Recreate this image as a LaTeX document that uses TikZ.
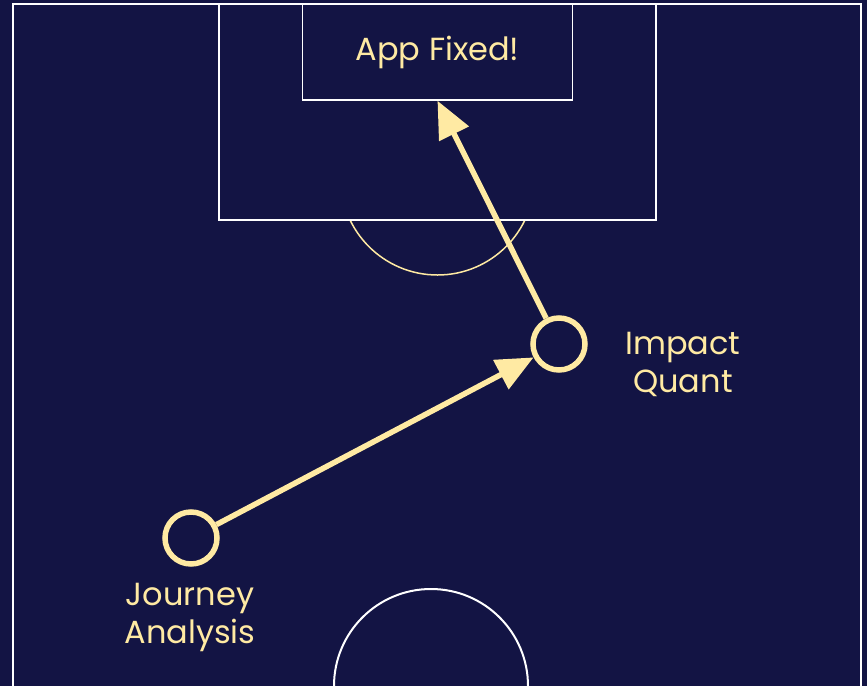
\documentclass[tikz,border=0pt]{standalone}
\usepackage{fontspec}
\setmainfont{Poppins}
\usetikzlibrary{arrows.meta}
\definecolor{pitch}{HTML}{131444}
\definecolor{cream}{HTML}{FFEAA3}
\tikzset{
  pitchline/.style={draw=white, line width=1.5pt},
  player/.style={circle, draw=cream, line width=5.5pt, minimum size=52pt, inner sep=0pt},
  lbl/.style={text=cream, font=\fontsize{32}{38}\selectfont, align=center, inner sep=0pt},
  pass/.style={draw=cream, line width=5.5pt, -{Triangle[length=37pt,width=32pt]}},
}
\begin{document}
\begin{tikzpicture}[x=1pt,y=-1pt]
\useasboundingbox (0,0) rectangle (867,686);
\fill[pitch] (0,0) rectangle (867,686);
% outer touchline
\draw[pitchline] (13,690) -- (13,4) -- (861,4) -- (861,690);
% penalty box
\draw[pitchline] (219,4) -- (219,220) -- (656,220) -- (656,4);
% penalty arc
\begin{scope}
\clip (0,221) rectangle (867,686);
\draw[draw=cream, line width=1.5pt] (437.5,178) circle[radius=97pt];
\end{scope}
% centre circle
\draw[draw=white, line width=2pt] (431,686) circle[radius=97pt];
% goal box with label
\node[pitchline, minimum width=270pt, minimum height=96pt, inner sep=0pt, text=cream, font=\fontsize{32}{38}\selectfont] (app) at (437.5,52) {App Fixed!};
% players
\node[player] (jr) at (191,538) {};
\node[player] (iq) at (559,344) {};
\node[lbl] (jrl) at (190,617) {Journey\\Analysis};
\node[lbl] (iql) at (683,364) {Impact\\Quant};
% passes
\draw[pass] (jr) -- (iq);
\draw[pass] (iq) -- (app.south);
\end{tikzpicture}
\end{document}
